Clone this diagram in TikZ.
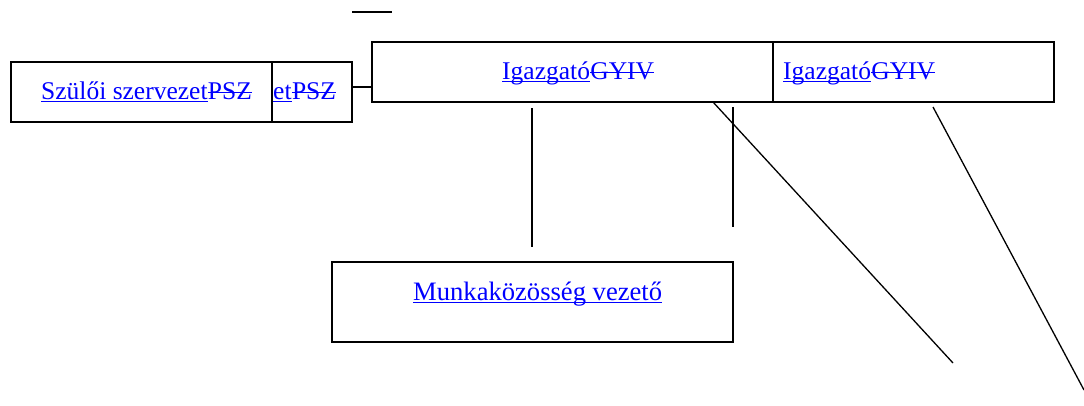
\documentclass[tikz,border=0pt]{standalone}
\usepackage{fontspec}
\setmainfont{Liberation Serif}
\definecolor{linkblue}{RGB}{0,0,255}
\begin{document}
\begin{tikzpicture}[x=1pt,y=-1pt,
  box/.style={draw=black,line width=1.5pt,rectangle,inner sep=0pt},
  conn/.style={draw=black,line width=1.3pt},
  lbl/.style={anchor=base west,inner sep=0pt,text=linkblue,font=\fontsize{25.5}{30}\selectfont},
  uline/.style={draw=linkblue,line width=1.4pt}]
\useasboundingbox (0,0) rectangle (1084,405);
% boxes
\node[box,minimum width=261pt,minimum height=60pt] (psz1) at (141.5,92) {};
\node[box,minimum width=80pt,minimum height=60pt] (psz2) at (312,92) {};
\node[box,minimum width=401pt,minimum height=60pt] (igz1) at (572.5,72) {};
\node[box,minimum width=281pt,minimum height=60pt] (igz2) at (913.5,72) {};
\node[box,minimum width=401pt,minimum height=80pt] (mk) at (532.5,302) {};
% texts
\node[lbl] (t1u) at (41,99) {Szülői szervezet};
\node[lbl] (t1s) at (t1u.base east) {PSZ};
\node[lbl] (t2u) at (273,99) {et};
\node[lbl] (t2s) at (t2u.base east) {PSZ};
\node[lbl] (t3u) at (502,79) {Igazgató};
\node[lbl] (t3s) at (t3u.base east) {GYIV};
\node[lbl] (t4u) at (783,79) {Igazgató};
\node[lbl] (t4s) at (t4u.base east) {GYIV};
\node[lbl,font=\fontsize{26.6}{31}\selectfont] (t5u) at (413,300) {Munkaközösség vezető};
% underlines and strike-throughs
\foreach \n in {t1u,t2u,t3u,t4u,t5u}
  \draw[uline] ([yshift=-2.3pt]\n.base west) -- ([yshift=-2.3pt]\n.base east);
\foreach \n in {t1s,t2s,t3s,t4s}
  \draw[uline] ([yshift=6.8pt]\n.base west) -- ([yshift=6.8pt]\n.base east);
% free connector ends
\coordinate (a1) at (352,12);
\coordinate (a2) at (392,12);
\coordinate (b1) at (352,87);
\coordinate (b2) at (372,87);
\coordinate (c1) at (532,108);
\coordinate (c2) at (532,247);
\coordinate (d1) at (733,107);
\coordinate (d2) at (733,227);
\coordinate (e1) at (713,102);
\coordinate (e2) at (953,363);
\coordinate (f1) at (933,107);
\coordinate (f2) at (1084,390);
% connectors
\draw[conn] (a1) -- (a2);
\draw[conn] (b1) -- (b2);
\draw[conn] (c1) -- (c2);
\draw[conn] (d1) -- (d2);
\draw[conn] (e1) -- (e2);
\draw[conn] (f1) -- (f2);
\end{tikzpicture}
\end{document}
